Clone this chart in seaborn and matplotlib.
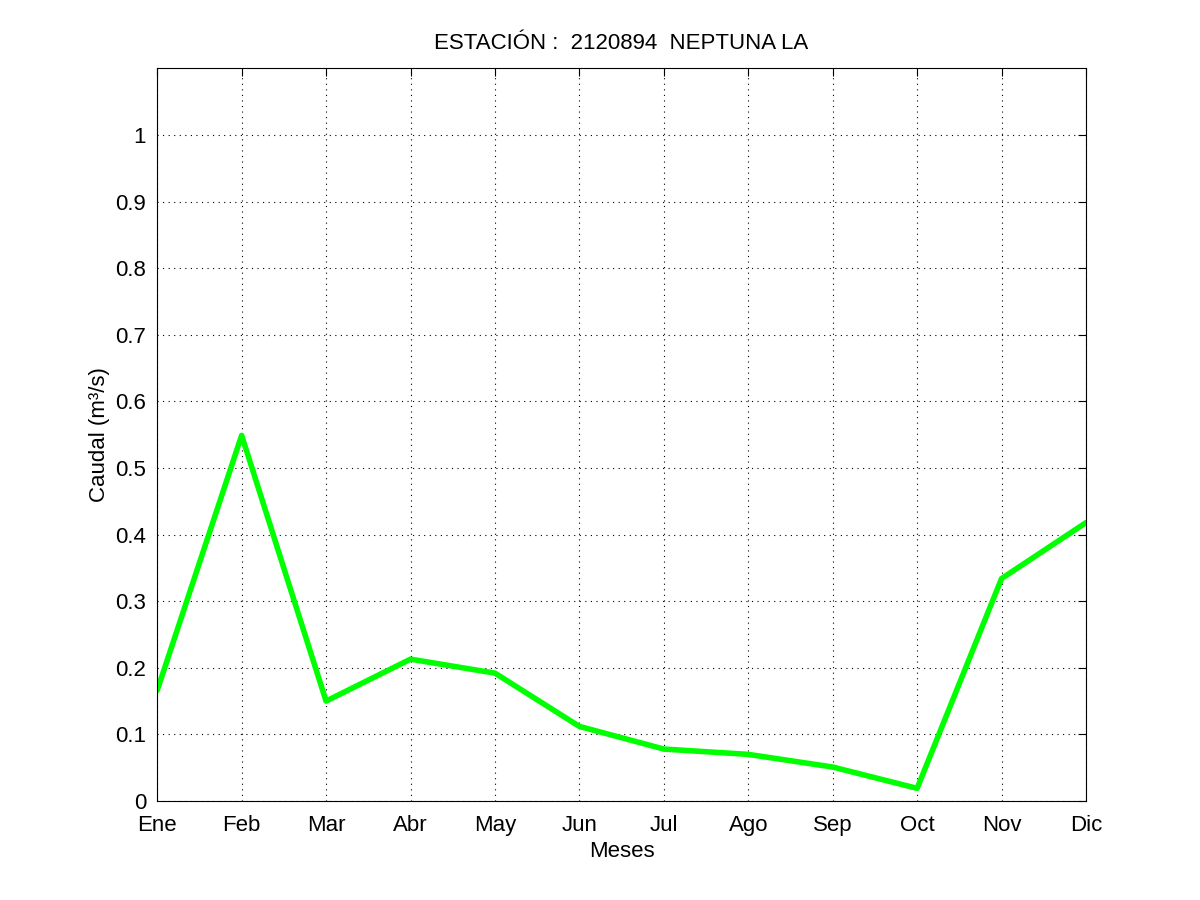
import matplotlib
matplotlib.use('Agg')
import matplotlib.pyplot as plt
import seaborn as sns
import pandas as pd

meses = ['Ene', 'Feb', 'Mar', 'Abr', 'May', 'Jun', 'Jul', 'Ago', 'Sep', 'Oct', 'Nov', 'Dic']
caudal = [0.166, 0.549, 0.150, 0.213, 0.192, 0.112, 0.078, 0.070, 0.051, 0.019, 0.334, 0.418]

df = pd.DataFrame({'mes': range(1, 13), 'caudal': caudal})

sns.set_style('white')
plt.rcParams['font.family'] = ['Liberation Sans', 'DejaVu Sans']
plt.rcParams['text.color'] = 'black'
plt.rcParams['axes.labelcolor'] = 'black'

fig = plt.figure(figsize=(12, 9), dpi=100)
ax = fig.add_axes([0.131, 0.11, 0.774, 0.814])
sns.lineplot(data=df, x='mes', y='caudal', color='#00ff00', linewidth=4, ax=ax)

ax.set_xlim(1, 12)
ax.set_ylim(0, 1.1)
ax.set_xticks(range(1, 13))
ax.set_xticklabels(meses)
ax.set_yticks([i / 10 for i in range(11)])
ax.set_yticklabels(['0', '0.1', '0.2', '0.3', '0.4', '0.5', '0.6', '0.7', '0.8', '0.9', '1'])
ax.grid(True, linestyle=(0, (1, 4)), color='black', linewidth=0.8)
ax.tick_params(direction='in', length=6, labelsize=16, top=True, right=True,
               color='black', labelcolor='black')
ax.tick_params(axis='x', pad=10)
ax.tick_params(axis='y', pad=8)
for s in ax.spines.values():
    s.set_color('black')
    s.set_linewidth(0.8)

ax.set_xlabel('Meses', fontsize=16, labelpad=4)
ax.set_ylabel('Caudal (m³/s)', fontsize=16)
ax.set_title('ESTACIÓN :  2120894  NEPTUNA LA', fontsize=16, pad=14)

fig.savefig('out.png')
